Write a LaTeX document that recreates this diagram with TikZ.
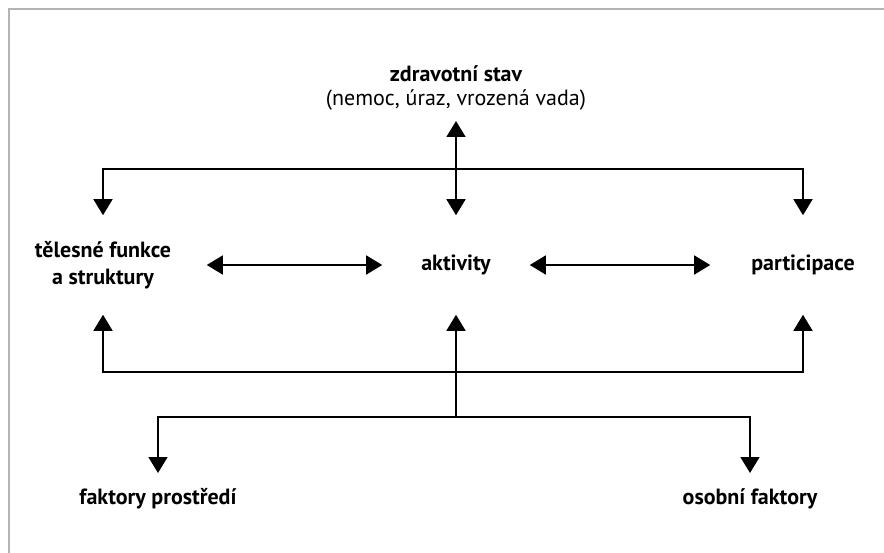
\documentclass[tikz,border=0pt]{standalone}
\usepackage{fontspec}
\setmainfont{PT Sans}
\usetikzlibrary{arrows.meta}
\definecolor{rám}{RGB}{180,180,180}

\begin{document}
\begin{tikzpicture}[x=1pt,y=-1pt,line width=1.6pt,
	>={Triangle[width=19pt,length=16pt]},
	lbl/.style={font=\fontsize{22}{27}\selectfont\bfseries,align=center,inner sep=0pt},
	mid/.style={lbl,minimum height=98pt}]
	\useasboundingbox (0,0) rectangle (884,553);
	\draw[rám,line width=2pt] (9,553)--(9,9)--(884,9);
	% uzly
	\node[lbl,font=\fontsize{22}{24}\selectfont\bfseries,anchor=south,inner ysep=10pt] (stav) at (456,121)
	{zdravotní stav\\{\mdseries (nemoc, úraz, vrozená vada)}};
	\node[mid,minimum width=206pt] (tel) at (103,265) {tělesné funkce\\a struktury};
	\node[mid,minimum width=146pt] (akt) at (456,265) {aktivity};
	\node[mid,minimum width=184pt] (par) at (803,265) {participace};
	\node[lbl,anchor=north,inner ysep=15pt] (env) at (158,473) {faktory prostředí};
	\node[lbl,anchor=north,inner ysep=15pt] (pers) at (750,473) {osobní faktory};
	\coordinate (top) at (456,169);
	\coordinate (low) at (456,372);
	\coordinate (fork) at (456,417);
	% spojnice
	\draw[<->] (stav.south)--(akt.north);
	\draw[<->] (tel.north) |- (top) -| (par.north);
	\draw[<->] (tel.east)--(akt.west);
	\draw[<->] (akt.east)--(par.west);
	\draw[<->] (tel.south) |- (low) -| (par.south);
	\draw[->] (fork)--(akt.south);
	\draw[<->] (env.north) |- (fork) -| (pers.north);
\end{tikzpicture}
\end{document}
